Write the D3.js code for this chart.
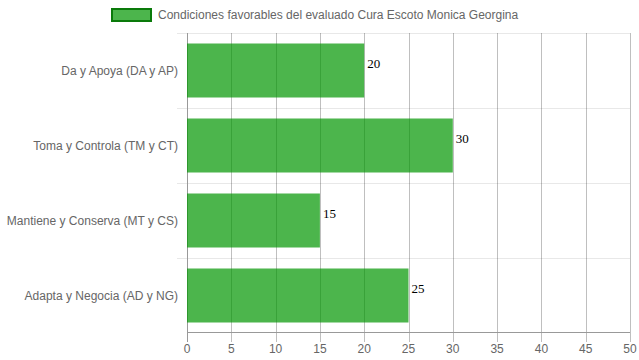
<!DOCTYPE html>
<html><head><meta charset="utf-8">
<script src="https://cdn.jsdelivr.net/npm/d3@7"></script>
<style>body{margin:0;background:#fff}</style>
</head><body>
<svg id="c" width="639" height="360"></svg>
<script>
const categories = ["Da y Apoya (DA y AP)", "Toma y Controla (TM y CT)", "Mantiene y Conserva (MT y CS)", "Adapta y Negocia (AD y NG)"];
const values = [20, 30, 15, 25];
const ticks = [0,5,10,15,20,25,30,35,40,45,50];
const seriesName = "Condiciones favorables del evaluado Cura Escoto Monica Georgina";

const svg = d3.select("#c");
const x = d3.scaleLinear().domain([0,50]).range([187,630]);
const y = d3.scaleBand().domain(categories).range([33,333]).padding(0);
const bw = y.bandwidth()*0.72;
const font = "Arial, 'Liberation Sans', sans-serif";
const barFill = "rgba(0,150,0,0.7)";

// horizontal grid lines
const hy = categories.map(c=>y(c));
svg.selectAll("line.hg").data(hy).enter().append("line")
  .attr("x1",177).attr("x2",630).attr("y1",d=>d+0.5).attr("y2",d=>d+0.5)
  .attr("stroke","#e8e8e8").attr("stroke-width",1);

// vertical grid lines
svg.selectAll("line.vg").data(ticks).enter().append("line")
  .attr("x1",d=>Math.round(x(d))+0.5).attr("x2",d=>Math.round(x(d))+0.5)
  .attr("y1",33).attr("y2",342)
  .attr("stroke",d=>d===0?"#999":"rgba(0,0,0,0.25)").attr("stroke-width",1);

// x axis line
svg.append("line").attr("x1",187).attr("x2",630).attr("y1",332.5).attr("y2",332.5).attr("stroke","#999");

// bars
svg.selectAll("rect.bar").data(values).enter().append("rect")
  .attr("x",x(0)).attr("y",(d,i)=>y(categories[i])+(y.bandwidth()-bw)/2)
  .attr("width",d=>x(d)-x(0)).attr("height",bw)
  .attr("fill",barFill);

// tick labels
svg.selectAll("text.xt").data(ticks).enter().append("text")
  .attr("x",d=>x(d)).attr("y",353).attr("text-anchor","middle")
  .attr("font-family",font).attr("font-size",12).attr("fill","#666").text(d=>d);

// category labels
svg.selectAll("text.yt").data(categories).enter().append("text")
  .attr("x",178).attr("y",d=>y(d)+y.bandwidth()/2+4).attr("text-anchor","end")
  .attr("font-family",font).attr("font-size",12).attr("fill","#666").text(d=>d);

// value labels
svg.selectAll("text.v").data(values).enter().append("text")
  .attr("x",d=>x(d)+3).attr("y",(d,i)=>y(categories[i])+y.bandwidth()/2-3)
  .attr("font-family","'Liberation Serif','Times New Roman',serif").attr("font-size",13).attr("fill","#000").text(d=>d);

// legend
svg.append("rect").attr("x",112).attr("y",9).attr("width",39).attr("height",12)
  .attr("fill",barFill).attr("stroke","#0a7a0a").attr("stroke-width",2);
svg.append("text").attr("x",158).attr("y",19).attr("font-family",font).attr("font-size",12)
  .attr("fill","#666").text(seriesName);
</script>
</body></html>
